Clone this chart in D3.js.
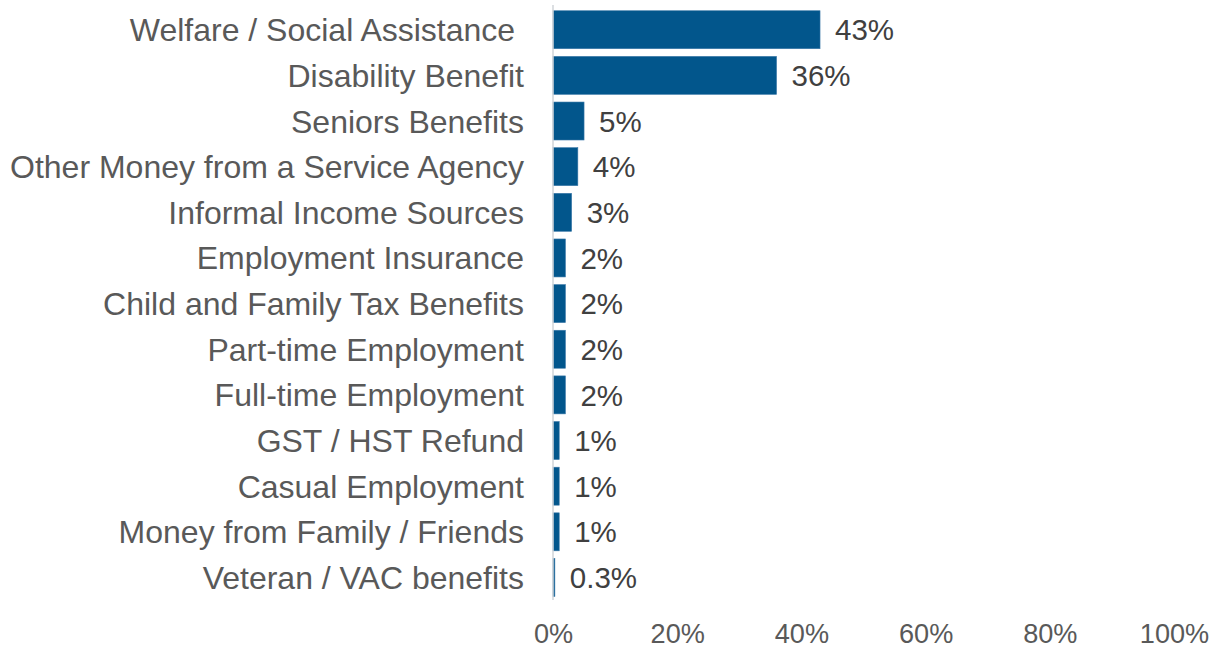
<!DOCTYPE html>
<html>
<head>
<meta charset="utf-8">
<script src="https://cdn.jsdelivr.net/npm/d3@7"></script>
<style>
  html, body { margin: 0; padding: 0; background: #ffffff; }
  svg { display: block; font-family: Arial, "Liberation Sans", sans-serif; }
</style>
</head>
<body>
<svg id="chart" width="1221" height="649"></svg>
<script>
// Sources of income, share of respondents (%)
const categories = [
  "Welfare / Social Assistance ",
  "Disability Benefit",
  "Seniors Benefits",
  "Other Money from a Service Agency",
  "Informal Income Sources",
  "Employment Insurance",
  "Child and Family Tax Benefits",
  "Part-time Employment",
  "Full-time Employment",
  "GST / HST Refund",
  "Casual Employment",
  "Money from Family / Friends",
  "Veteran / VAC benefits"
];
const values = [43, 36, 5, 4, 3, 2, 2, 2, 2, 1, 1, 1, 0.3];
const xTicks = [0, 20, 40, 60, 80, 100];

const svg = d3.select("#chart");

const x = d3.scaleLinear().domain([0, 100]).range([553, 1174]);
const y = d3.scaleBand()
  .domain(categories)
  .range([6.9, 600.3])
  .paddingInner(0.168)
  .paddingOuter(0.084);

const fmt = v => (v < 1 ? d3.format(".1f")(v) : d3.format(".0f")(v)) + "%";

// Bars
svg.append("g")
  .selectAll("rect")
  .data(values)
  .join("rect")
  .attr("x", x(0))
  .attr("y", (d, i) => y(categories[i]))
  .attr("width", d => x(d) - x(0))
  .attr("height", y.bandwidth())
  .attr("fill", "#02568C")
  .attr("stroke", "#3a78a8")
  .attr("stroke-width", 0.6);

// Value labels
svg.append("g")
  .selectAll("text")
  .data(values)
  .join("text")
  .attr("x", d => x(d) + 15)
  .attr("y", (d, i) => y(categories[i]) + y.bandwidth() / 2)
  .attr("dy", "0.36em")
  .attr("font-size", 29.5)
  .attr("fill", "#404040")
  .text(fmt);

// Category axis (left)
const yAxis = svg.append("g")
  .attr("transform", `translate(${x(0)},0)`)
  .call(d3.axisLeft(y).tickSize(0).tickPadding(29));
yAxis.select(".domain").remove();
yAxis.selectAll("text")
  .attr("font-size", 32)
  .attr("font-family", "Arial, 'Liberation Sans', sans-serif")
  .attr("fill", "#595959")
  .attr("dy", "0.36em")
  .style("white-space", "pre");

// Vertical baseline
svg.append("line")
  .attr("x1", x(0)).attr("x2", x(0))
  .attr("y1", 5).attr("y2", 600)
  .attr("stroke", "#d0d4d9")
  .attr("stroke-width", 1.5);

// Percentage axis (bottom)
const xAxis = svg.append("g")
  .attr("transform", "translate(0,600)")
  .call(d3.axisBottom(x).tickValues(xTicks).tickSize(0).tickFormat(d => d + "%"));
xAxis.select(".domain").remove();
xAxis.selectAll(".tick text")
  .attr("font-size", 28)
  .attr("font-family", "Arial, 'Liberation Sans', sans-serif")
  .attr("fill", "#595959")
  .attr("y", 0)
  .attr("dy", 0)
  .attr("transform", "translate(0,42.5) scale(0.97,1)");
</script>
</body>
</html>
